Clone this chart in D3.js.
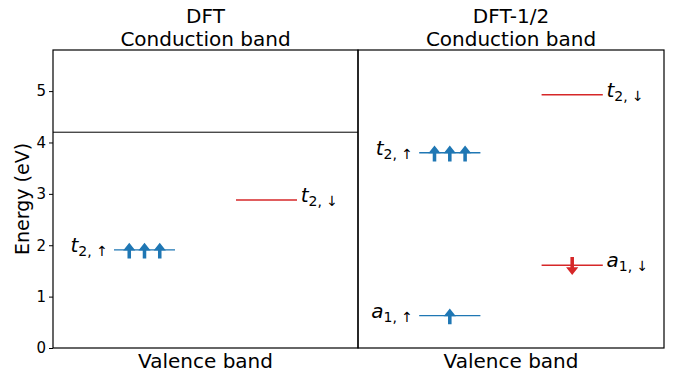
<!DOCTYPE html>
<html>
<head>
<meta charset="utf-8">
<script src="https://cdn.jsdelivr.net/npm/d3@7"></script>
<style>
    body { margin: 0; background: #fff; }
    text { font-family: "DejaVu Sans", sans-serif; fill: #000; }
</style>
</head>
<body>
<div id="chart"></div>
<script>
// panel titles
const panelTitles = ["DFT", "DFT-1/2"];
const cbmEnergy = [4.2, null];          // conduction band edge drawn in each panel
const yTicks = [0, 1, 2, 3, 4, 5];
const yMax = 5.8;

// defect levels
const levelPanel   = [0, 0, 1, 1, 1, 1];
const levelEnergy  = [1.91, 2.88, 3.80, 4.93, 0.63, 1.61];
const levelSpin    = ["up", "down", "up", "down", "up", "down"];
const levelOrbital = ["t", "t", "t", "t", "a", "a"];
const levelSub     = ["2", "2", "2", "2", "1", "1"];
// x positions of the electrons sitting on each level
const electronX    = [[0.25, 0.3, 0.35], [], [0.25, 0.3, 0.35], [], [0.3], [0.7]];

const blue = "#1f77b4", red = "#d62728";

const width = 675, height = 378;
const plotTop = 50, plotBottom = 348;
const panelX = [[53, 358], [358, 664]];

const svg = d3.select("#chart").append("svg")
    .attr("width", width)
    .attr("height", height);

const y = d3.scaleLinear().domain([0, yMax]).range([plotBottom, plotTop]);

panelTitles.forEach((title, p) => {
    const x = d3.scaleLinear().domain([0, 1]).range(panelX[p]);
    const g = svg.append("g");
    const cx = (panelX[p][0] + panelX[p][1]) / 2;

    // two-line title
    const t = g.append("text").attr("text-anchor", "middle").style("font-size", "20px");
    t.append("tspan").attr("x", cx).attr("y", 23).text(title);
    t.append("tspan").attr("x", cx).attr("y", 45.5).text("Conduction band");

    g.append("text").attr("x", cx).attr("y", 368).attr("text-anchor", "middle")
        .style("font-size", "20px").text("Valence band");

    if (cbmEnergy[p] !== null) {
        g.append("line")
            .attr("x1", x(0)).attr("x2", x(1))
            .attr("y1", y(cbmEnergy[p])).attr("y2", y(cbmEnergy[p]))
            .attr("stroke", "#000").attr("stroke-width", 1);
    }

    levelEnergy.forEach((e, i) => {
        if (levelPanel[i] !== p) return;
        const up = levelSpin[i] === "up";
        const col = up ? blue : red;
        const x0 = up ? 0.2 : 0.6, x1 = up ? 0.4 : 0.8;

        g.append("line")
            .attr("x1", x(x0)).attr("x2", x(x1))
            .attr("y1", y(e)).attr("y2", y(e))
            .attr("stroke", col).attr("stroke-width", 1.4);

        // electrons as arrows
        electronX[i].forEach(ex => {
            const tail = up ? e - 0.17 : e + 0.16;
            const tip = up ? e + 0.14 : e - 0.19;
            const dir = up ? 1 : -1;
            const headBase = tip - dir * 0.15;
            const sw = 0.0058, hw = 0.02;
            const pts = [
                [ex - sw, tail], [ex - sw, headBase], [ex - hw, headBase], [ex, tip],
                [ex + hw, headBase], [ex + sw, headBase], [ex + sw, tail]
            ];
            g.append("path")
                .attr("d", d3.line().x(d => x(d[0])).y(d => y(d[1]))(pts) + "Z")
                .attr("fill", col);
        });

        // label
        const lbl = g.append("text")
            .attr("x", up ? x(0.18) : x(0.812))
            .attr("y", y(e) + 2)
            .attr("text-anchor", up ? "end" : "start");
        lbl.append("tspan").style("font-size", "20px").style("font-style", "italic")
            .text(levelOrbital[i]);
        lbl.append("tspan").style("font-size", "14px").attr("dy", 4)
            .text(levelSub[i] + ", " + (up ? "\u2191" : "\u2193"));
    });

    // frame
    g.append("rect")
        .attr("x", panelX[p][0]).attr("y", plotTop)
        .attr("width", panelX[p][1] - panelX[p][0]).attr("height", plotBottom - plotTop)
        .attr("fill", "none").attr("stroke", "#000").attr("stroke-width", 1.2);
});

// y axis on the left panel
const axis = svg.append("g")
    .attr("transform", `translate(${panelX[0][0]},0)`)
    .call(d3.axisLeft(y).tickValues(yTicks).tickFormat(d3.format("d")).tickSize(4).tickPadding(3))
    .attr("font-size", 15)
    .attr("font-family", "DejaVu Sans, sans-serif");
axis.select(".domain").remove();
axis.selectAll("text").attr("fill", "#000").style("font-size", "15px");
axis.selectAll("line").attr("stroke", "#000");

svg.append("text")
    .attr("transform", `translate(29,${(plotTop + plotBottom) / 2}) rotate(-90)`)
    .attr("text-anchor", "middle")
    .style("font-size", "19px")
    .text("Energy (eV)");
</script>
</body>
</html>
